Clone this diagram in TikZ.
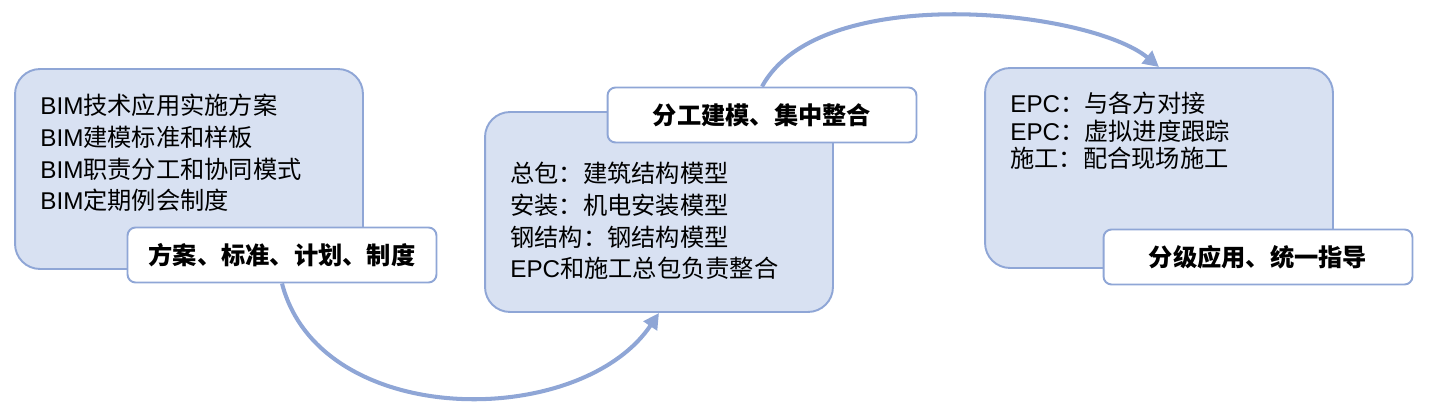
\documentclass[tikz,border=0pt]{standalone}
\usepackage{fontspec}
\setmainfont{Noto Sans CJK SC}
\newfontfamily\lat{Liberation Sans}
\usetikzlibrary{arrows.meta}
\definecolor{boxfill}{RGB}{216,225,242}
\definecolor{boxline}{RGB}{143,166,214}
\begin{document}
\begin{tikzpicture}[x=0.02cm,y=-0.02cm,
  every node/.style={font=\fontsize{13.8}{18}\selectfont},
  box/.style={draw=boxline,line width=1.1pt,fill=boxfill,rounded corners=0.5cm,
              minimum width=6.96cm,minimum height=4cm},
  tag/.style={draw=boxline,line width=1.1pt,fill=white,rounded corners=0.16cm,
              minimum width=6.18cm,minimum height=1.1cm,
              font=\fontsize{13.8}{18}\selectfont\bfseries},
  txt/.style={anchor=north west,align=left,inner sep=0pt},
  flow/.style={draw=boxline,line width=2.3pt,-{Triangle[length=9pt,width=9pt]}}]
\useasboundingbox (0,0) rectangle (1430,405);

\node[box] (box1) at (189,169) {};
\node[box] (box2) at (659,212) {};
\node[box] (box3) at (1159,168) {};

\node[txt] (list1) at (40,94) {{\lat BIM}技术应用实施方案\\{\lat BIM}建模标准和样板\\
  {\lat BIM}职责分工和协同模式\\{\lat BIM}定期例会制度};
\node[txt] (list2) at (510,162) {总包：建筑结构模型\\安装：机电安装模型\\
  钢结构：钢结构模型\\{\lat EPC}和施工总包负责整合};
\node[txt,font=\fontsize{13.8}{15.6}\selectfont] (list3) at (1010,92) {{\lat EPC}：与各方对接\\
  {\lat EPC}：虚拟进度跟踪\\施工：配合现场施工};

\node[tag] (tag1) at (282,255) {方案、标准、计划、制度};
\node[tag] (tag2) at (762,115) {分工建模、集中整合};
\node[tag] (tag3) at (1258,257) {分级应用、统一指导};

\draw[flow] (tag1.south) .. controls (320,430) and (580,430) .. (box2.south);
\draw[flow] (tag2.north) .. controls (820,-20) and (1090,10) .. (box3.north);
\end{tikzpicture}
\end{document}
